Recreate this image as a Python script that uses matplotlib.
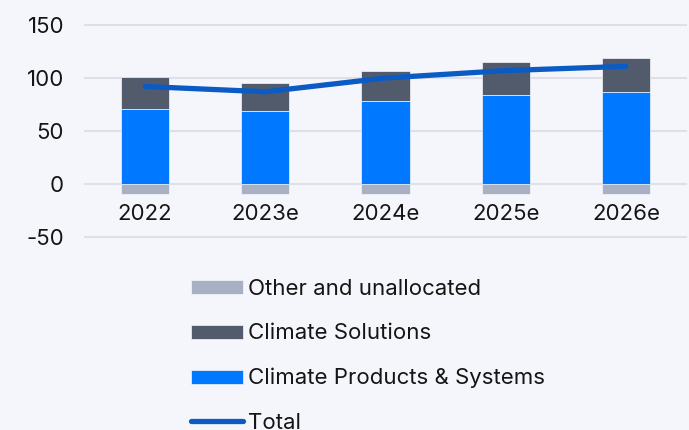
import matplotlib.pyplot as plt
import numpy as np

# --- Daten ---
years = ["2022", "2023e", "2024e", "2025e", "2026e"]
climate_products = [71, 69, 78, 84, 87]
climate_solutions = [30, 26, 29, 31, 32]
other_unallocated = [-9, -9, -9, -9, -9]
total = [92, 87, 100, 107, 111]
y_ticks = [-50, 0, 50, 100, 150]

# --- Farben ---
BG = "#f5f6fb"
C_CPS = "#0078ff"
C_CS = "#525b6b"
C_OTHER = "#aab0c3"
C_TOTAL = "#0a5cc4"
C_GRID = "#dde0e8"
C_TEXT = "#151515"

plt.rcParams['font.family'] = ['Inter', 'DejaVu Sans']

fig = plt.figure(figsize=(6.89, 4.30), dpi=100, facecolor=BG)
W, H = 689, 430
ax = fig.add_axes([85 / W, 1 - 237 / H, 601 / W, 212 / H], facecolor=BG)

x = np.arange(len(years))
bw = 0.4

b_other = ax.bar(x, other_unallocated, bw, color=C_OTHER, label="Other and unallocated", zorder=2,
                 edgecolor=BG, linewidth=0.5)
b_cs = ax.bar(x, climate_solutions, bw, bottom=climate_products, color=C_CS, label="Climate Solutions",
              zorder=2, edgecolor=BG, linewidth=0.5)
b_cps = ax.bar(x, climate_products, bw, color=C_CPS, label="Climate Products & Systems", zorder=2,
               edgecolor=BG, linewidth=0.5)
l_total, = ax.plot(x, total, color=C_TOTAL, linewidth=3.8, solid_capstyle='round', label="Total", zorder=3)

ax.set_xlim(-0.5, len(years) - 0.5)
ax.set_ylim(-50, 150)
ax.set_yticks(y_ticks)
ax.set_yticklabels([str(v) for v in y_ticks])
ax.set_xticks(x)
ax.set_xticklabels(years)

for v in y_ticks:
    ax.axhline(v, color=C_GRID, linewidth=1.5, zorder=1, clip_on=False)

for s in ax.spines.values():
    s.set_visible(False)
ax.spines['bottom'].set_position(('data', -19))
ax.tick_params(axis='both', length=0, labelsize=16, labelcolor=C_TEXT)
ax.tick_params(axis='y', pad=15)
ax.tick_params(axis='x', pad=0)

handles = [b_other, b_cs, b_cps, l_total]
labels = [h.get_label() for h in handles]
fig.legend(handles, labels, loc='upper left', bbox_to_anchor=(191 / W, 1 - 279 / H),
           frameon=False, fontsize=16, handlelength=2.35, handleheight=0.6,
           handletextpad=0.23, labelspacing=1.1, borderpad=0, borderaxespad=0,
           labelcolor=C_TEXT)

plt.savefig("out.png", dpi=100, facecolor=BG)
